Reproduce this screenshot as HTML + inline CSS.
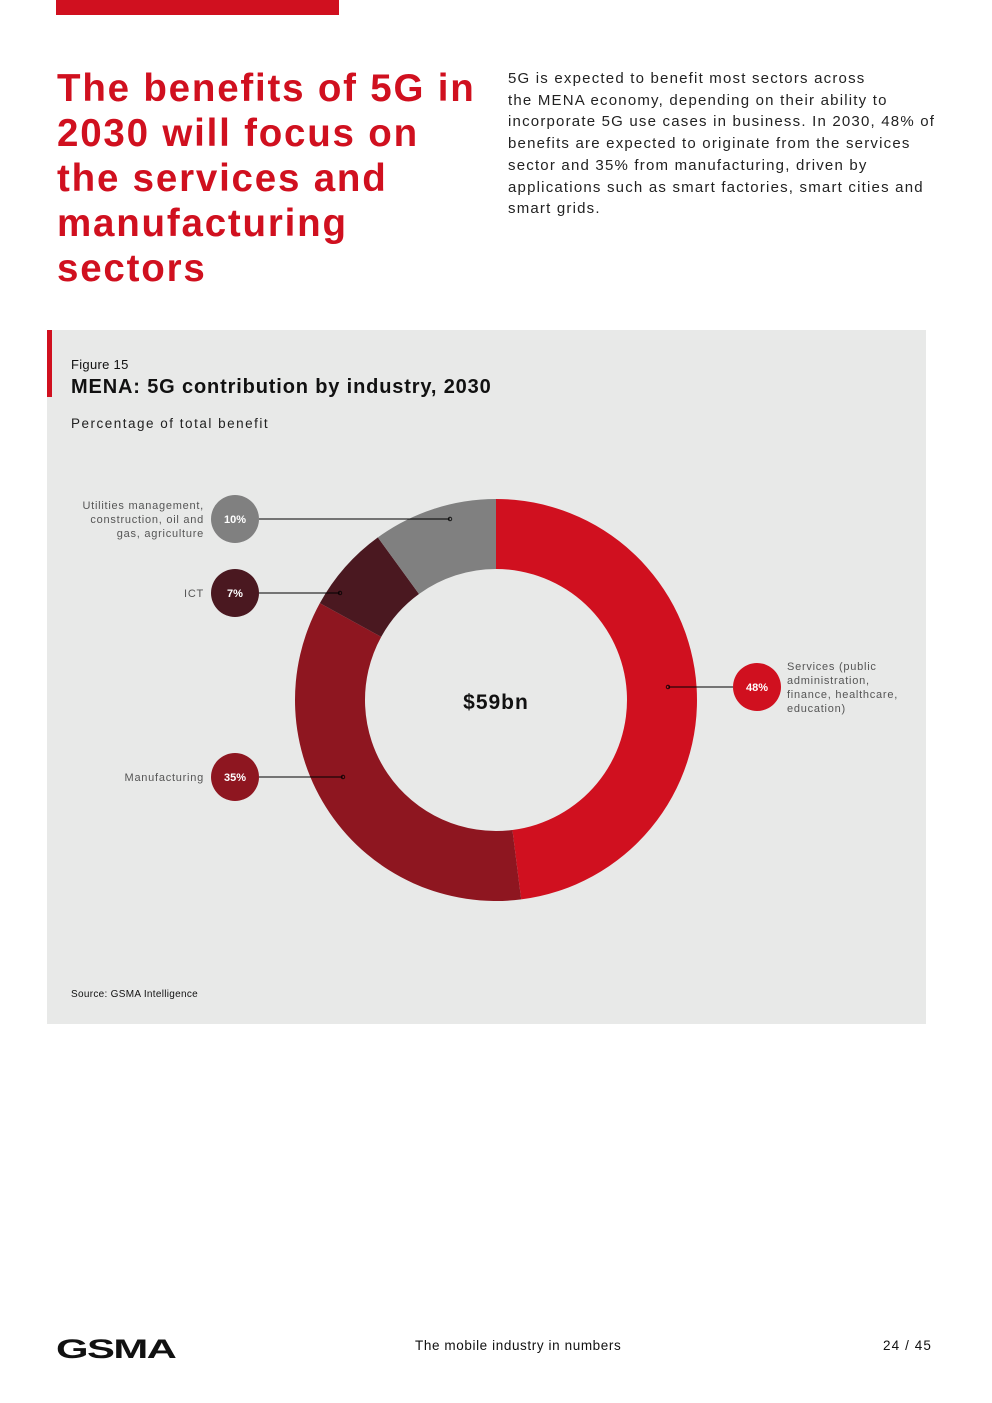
<!DOCTYPE html>
<html><head><meta charset="utf-8"><style>
body{margin:0;width:992px;height:1403px;background:#fff;position:relative;font-family:"Liberation Sans",sans-serif;overflow:hidden}
.abs{position:absolute;white-space:nowrap}
</style></head><body>
<div class="abs" style="left:56px;top:0;width:283px;height:15px;background:#d0101f"></div>
<div class="abs" style="left:57px;top:66px;font-size:38.5px;font-weight:bold;color:#d0101f;line-height:45px;letter-spacing:1.8px">The benefits of 5G in<br>2030 will focus on<br>the services and<br>manufacturing<br>sectors</div>
<div class="abs" style="left:508px;top:68px;font-size:15px;line-height:21.7px;color:#222;letter-spacing:1.2px">5G is expected to benefit most sectors across<br>the MENA economy, depending on their ability to<br>incorporate 5G use cases in business. In 2030, 48% of<br>benefits are expected to originate from the services<br>sector and 35% from manufacturing, driven by<br>applications such as smart factories, smart cities and<br>smart grids.</div>
<div class="abs" style="left:47px;top:330px;width:879px;height:694px;background:#e8e9e8"></div>
<div class="abs" style="left:47px;top:330px;width:5px;height:67px;background:#d0101f"></div>
<div class="abs" style="left:71px;top:357px;font-size:13px;color:#111;letter-spacing:0.3px">Figure 15</div>
<div class="abs" style="left:71px;top:376px;font-size:20px;font-weight:bold;color:#111;letter-spacing:0.85px">MENA: 5G contribution by industry, 2030</div>
<div class="abs" style="left:71px;top:416px;font-size:13.5px;color:#222;letter-spacing:1.5px">Percentage of total benefit</div>
<div class="abs" style="left:71px;top:989px;font-size:10px;color:#111;letter-spacing:0.3px">Source: GSMA Intelligence</div>
<svg id="chart" class="abs" style="left:0;top:0" width="992" height="1100"></svg>
<div class="abs" style="left:56px;top:1334px;font-size:27px;font-weight:900;letter-spacing:-1px;color:#111;transform:scaleX(1.55);transform-origin:left">GSMA</div>
<div class="abs" style="left:415px;top:1338px;font-size:13.5px;color:#111;letter-spacing:0.6px">The mobile industry in numbers</div>
<div class="abs" style="left:883px;top:1338px;font-size:13.5px;color:#111;letter-spacing:1.1px">24 / 45</div>
<script>
const categories=["Services","Manufacturing","ICT","Utilities"];
const values=[48,35,7,10];
const colors=["#d0101f","#8e1620","#4a1820","#808080"];
const labelText=[["Services (public","administration,","finance, healthcare,","education)"],["Manufacturing"],["ICT"],["Utilities management,","construction, oil and","gas, agriculture"]];
const bubbleY=[687,777,593,519];
const totalLabel="$59bn";
const NS="http://www.w3.org/2000/svg";
const svg=document.getElementById('chart');
const cx=496,cy=700,R=201,r=131;
function mk(t,a){const e=document.createElementNS(NS,t);for(const k in a)e.setAttribute(k,a[k]);svg.appendChild(e);return e;}
function pt(rad,ang){return [cx+rad*Math.sin(ang),cy-rad*Math.cos(ang)];}
const tot=values.reduce((a,b)=>a+b,0);
let a0=0;
values.forEach((v,i)=>{
 const a1=a0+v/tot*2*Math.PI;const big=(a1-a0)>Math.PI?1:0;
 const p1=pt(R,a0),p2=pt(R,a1),p3=pt(r,a1),p4=pt(r,a0);
 const p=mk('path',{d:`M${p1} A${R},${R} 0 ${big} 1 ${p2} L${p3} A${r},${r} 0 ${big} 0 ${p4}Z`,fill:colors[i]});
 
 
 const right=i===0;
 const bx=right?757:235, by=bubbleY[i];
 const tx=right?668:(i===3?450:(i===2?340:343));
 const ln=mk('line',{x1:right?bx-24:bx+24,y1:by,x2:tx,y2:by,stroke:'#000','stroke-width':0.9});
 
 
 const dot=mk('circle',{cx:tx,cy:by,r:1.8,fill:'none',stroke:'#000','stroke-width':0.8});
 
 
 const c=mk('circle',{cx:bx,cy:by,r:24,fill:colors[i]});
 
 
 const t=mk('text',{x:bx,y:by+4,'text-anchor':'middle','font-size':11,'font-weight':'bold',fill:'#fff','font-family':'Liberation Sans, sans-serif'});
 t.textContent=v+'%';
 
 
 const lines=labelText[i];
 const lt=mk('text',{x:right?787:204,'text-anchor':right?'start':'end','font-size':11,fill:'#555','letter-spacing':0.75,'font-family':'Liberation Sans, sans-serif'});
 
 
 const y0=by+4-(lines.length-1)*7;
 lines.forEach((s,k)=>{const ts=document.createElementNS(NS,'tspan');ts.setAttribute('x',right?787:204);ts.setAttribute('y',y0+k*14);ts.textContent=s;lt.appendChild(ts);});
 a0=a1;
});
const ct=mk('text',{x:cx,y:cy+9,'text-anchor':'middle','font-size':21,'font-weight':'bold',fill:'#111','letter-spacing':1,'font-family':'Liberation Sans, sans-serif'});
ct.textContent=totalLabel;


</script>
</body></html>
